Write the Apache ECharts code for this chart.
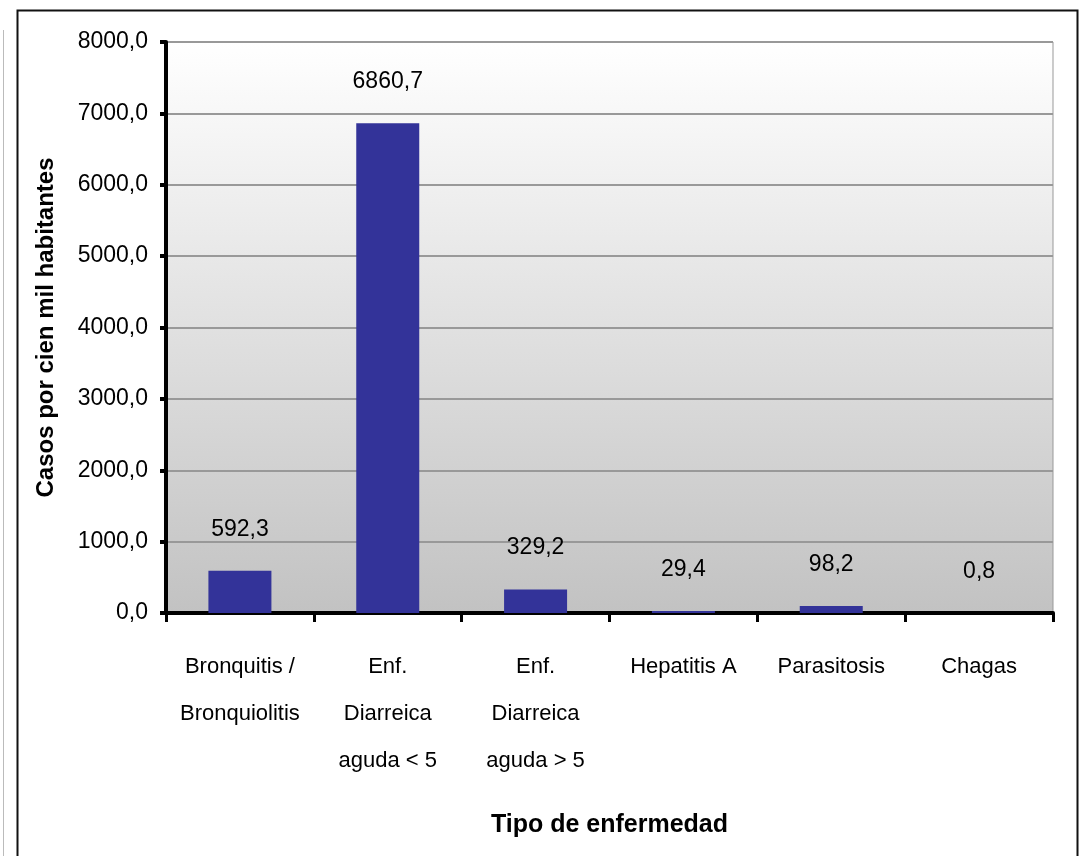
<!DOCTYPE html>
<html>
<head>
<meta charset="utf-8">
<script src="https://cdn.jsdelivr.net/npm/echarts@6/dist/echarts.min.js"></script>
<style>
html,body{margin:0;padding:0;background:#fff;}
#chart{width:1081px;height:856px;}
</style>
</head>
<body>
<div id="chart"></div>
<script>
const categories = ["Bronquitis /\nBronquiolitis", "Enf.\nDiarreica\naguda < 5", "Enf.\nDiarreica\naguda > 5", "Hepatitis A", "Parasitosis", "Chagas"];
const values = [592.3, 6860.7, 329.2, 29.4, 98.2, 0.8];
const yAxisTitle = "Casos por cien mil habitantes";
const xAxisTitle = "Tipo de enfermedad";

const narrow = "'Liberation Sans Narrow', 'Arial Narrow', 'Liberation Sans', sans-serif";
const fmt = v => v.toFixed(1).replace('.', ',');

const chart = echarts.init(document.getElementById('chart'));
chart.setOption({
  animation: false,
  backgroundColor: '#ffffff',
  graphic: [
    { type: 'rect', shape: { x: 17.5, y: 10.5, width: 1060, height: 860 }, style: { fill: 'none', stroke: '#111', lineWidth: 2 }, z: 100 },
    { type: 'line', shape: { x1: 3.5, y1: 30, x2: 3.5, y2: 856 }, style: { stroke: '#bbb', lineWidth: 1 } }
  ],
  grid: {
    left: 166, right: 28, top: 42, bottom: 243,
    show: true,
    borderColor: '#999',
    borderWidth: 1,
    backgroundColor: new echarts.graphic.LinearGradient(0, 0, 0, 1, [
      { offset: 0, color: '#ffffff' },
      { offset: 1, color: '#c2c2c2' }
    ])
  },
  xAxis: {
    type: 'category',
    data: categories,
    name: xAxisTitle,
    nameLocation: 'middle',
    nameGap: 200,
    nameTextStyle: { fontFamily: narrow, fontSize: 25, color: '#000', fontWeight: 'bold' },
    axisLine: { show: true, lineStyle: { color: '#000', width: 4 } },
    axisTick: { show: true, alignWithLabel: false, length: 9, lineStyle: { color: '#000', width: 3 } },
    axisLabel: { fontFamily: narrow, fontSize: 22, color: '#000', lineHeight: 47, margin: 30, interval: 0 }
  },
  yAxis: {
    type: 'value',
    min: 0, max: 8000, interval: 1000,
    name: yAxisTitle,
    nameLocation: 'middle',
    nameGap: 108,
    nameRotate: 90,
    nameTextStyle: { fontFamily: "'Liberation Sans', Arial, sans-serif", fontSize: 24, fontWeight: 'bold', color: '#000' },
    axisLine: { show: true, lineStyle: { color: '#000', width: 4 } },
    axisTick: { show: true, length: 6, lineStyle: { color: '#000', width: 4 } },
    axisLabel: { fontFamily: narrow, fontSize: 23, color: '#000', margin: 18, formatter: v => fmt(v) },
    splitLine: { show: true, lineStyle: { color: '#999', width: 2 } }
  },
  series: [{
    type: 'bar',
    data: values,
    barWidth: 63,
    itemStyle: { color: '#333399' },
    label: {
      show: true,
      position: 'top',
      distance: 30,
      fontFamily: narrow,
      fontSize: 23,
      color: '#000',
      formatter: p => fmt(p.value)
    }
  }]
});
</script>
</body>
</html>
